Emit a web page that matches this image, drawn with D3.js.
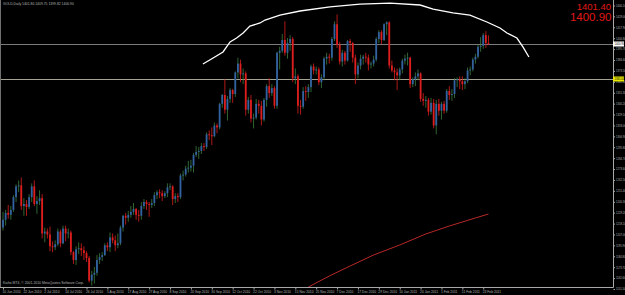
<!DOCTYPE html>
<html>
<head>
<meta charset="utf-8">
<script src="https://cdn.jsdelivr.net/npm/d3@7"></script>
<style>
  html, body { margin: 0; padding: 0; background: #000; overflow: hidden; }
  text { font-family: "Liberation Sans", Arial, sans-serif; }
</style>
</head>
<body>
<svg id="chart"></svg>
<script>
// ---- data ----
const symbolTitle = "GOLD,Daily  1401.80 1409.75 1399.82 1400.90";
const copyright = "Kaiho MT4, \u00a9 2001-2010 MetaQuotes Software Corp.";
const bidAskLabels = ["1401.40", "1400.90"];
const bidPrice = 1400.90;
const levelPrice = 1365.00;
const barsPerLabel = 8;

const timeLabels = [
    "10 Jun 2010", "22 Jun 2010", "2 Jul 2010", "14 Jul 2010", "26 Jul 2010",
    "5 Aug 2010", "17 Aug 2010", "27 Aug 2010", "8 Sep 2010", "20 Sep 2010",
    "30 Sep 2010", "12 Oct 2010", "22 Oct 2010", "3 Nov 2010", "15 Nov 2010",
    "25 Nov 2010", "7 Dec 2010", "17 Dec 2010", "29 Dec 2010", "10 Jan 2011",
    "20 Jan 2011", "1 Feb 2011", "11 Feb 2011", "23 Feb 2011"
];

const priceTicks = [
    1151.50, 1162.60, 1173.70, 1184.80, 1195.90, 1207.00, 1218.10, 1229.20,
    1240.30, 1251.40, 1262.50, 1273.60, 1284.70, 1295.80, 1306.90, 1318.00,
    1329.10, 1340.20, 1351.30, 1362.40, 1373.50, 1384.60, 1395.70, 1406.80,
    1417.90, 1429.00, 1440.10
];

// open, high, low, close -- one row per daily bar from 10 Jun 2010
const candles = [
    [1214, 1230, 1211, 1222], [1222, 1232, 1216, 1229], [1229, 1237, 1223, 1227], [1227, 1236, 1222, 1232],
    [1232, 1247, 1230, 1245], [1245, 1258, 1240, 1256], [1256, 1262, 1250, 1257], [1257, 1265, 1232, 1236],
    [1236, 1244, 1226, 1238], [1238, 1242, 1226, 1235], [1235, 1248, 1233, 1245], [1245, 1259, 1240, 1256],
    [1256, 1262, 1236, 1238], [1238, 1246, 1228, 1241], [1241, 1252, 1237, 1244], [1244, 1248, 1203, 1208],
    [1208, 1214, 1199, 1210], [1210, 1213, 1203, 1207], [1207, 1215, 1190, 1195], [1195, 1200, 1189, 1194],
    [1194, 1201, 1191, 1197], [1197, 1213, 1195, 1210], [1210, 1212, 1194, 1198], [1198, 1216, 1197, 1213],
    [1213, 1216, 1200, 1208], [1208, 1213, 1203, 1209], [1209, 1211, 1186, 1189], [1189, 1190, 1177, 1181],
    [1181, 1195, 1176, 1192], [1192, 1199, 1187, 1193], [1193, 1198, 1185, 1191], [1191, 1195, 1181, 1188],
    [1188, 1190, 1179, 1183], [1183, 1185, 1158, 1160], [1160, 1170, 1155, 1166], [1166, 1174, 1157, 1168],
    [1168, 1186, 1165, 1181], [1181, 1188, 1177, 1184], [1184, 1189, 1180, 1186], [1186, 1198, 1185, 1196],
    [1196, 1199, 1190, 1194], [1194, 1209, 1189, 1204], [1204, 1208, 1198, 1201], [1201, 1206, 1190, 1196],
    [1196, 1208, 1193, 1198], [1198, 1216, 1196, 1214], [1214, 1227, 1210, 1226], [1226, 1229, 1217, 1224],
    [1224, 1231, 1220, 1227], [1227, 1236, 1224, 1230], [1230, 1239, 1227, 1233], [1233, 1234, 1222, 1227],
    [1227, 1232, 1220, 1226], [1226, 1240, 1222, 1236], [1236, 1243, 1233, 1240], [1240, 1242, 1232, 1238],
    [1238, 1240, 1225, 1237], [1237, 1243, 1234, 1239], [1239, 1250, 1236, 1247], [1247, 1252, 1243, 1250],
    [1250, 1253, 1244, 1249], [1249, 1252, 1241, 1246], [1246, 1251, 1244, 1249], [1249, 1259, 1245, 1255],
    [1255, 1259, 1252, 1256], [1256, 1257, 1237, 1243], [1243, 1249, 1239, 1246], [1246, 1249, 1240, 1245],
    [1245, 1269, 1243, 1267], [1267, 1272, 1262, 1268], [1268, 1277, 1266, 1274], [1274, 1282, 1270, 1275],
    [1275, 1283, 1271, 1277], [1277, 1290, 1270, 1288], [1288, 1297, 1286, 1291], [1291, 1296, 1284, 1292],
    [1292, 1300, 1289, 1297], [1297, 1300, 1292, 1296], [1296, 1311, 1294, 1309], [1309, 1313, 1303, 1308],
    [1308, 1316, 1298, 1307], [1307, 1321, 1306, 1318], [1318, 1320, 1310, 1316], [1316, 1341, 1314, 1340],
    [1340, 1350, 1336, 1349], [1349, 1365, 1330, 1334], [1334, 1348, 1323, 1345], [1345, 1356, 1341, 1354],
    [1354, 1355, 1341, 1350], [1350, 1373, 1347, 1372], [1372, 1387, 1366, 1381], [1381, 1385, 1362, 1370],
    [1370, 1376, 1360, 1371], [1371, 1373, 1328, 1334], [1334, 1347, 1330, 1344], [1344, 1349, 1321, 1325],
    [1325, 1330, 1315, 1326], [1326, 1345, 1324, 1340], [1340, 1344, 1330, 1338], [1338, 1343, 1318, 1324],
    [1324, 1346, 1322, 1344], [1344, 1360, 1337, 1358], [1358, 1366, 1346, 1351], [1351, 1360, 1348, 1356],
    [1356, 1358, 1335, 1338], [1338, 1393, 1335, 1392], [1392, 1398, 1375, 1394], [1394, 1411, 1392, 1405],
    [1405, 1424, 1389, 1392], [1392, 1407, 1386, 1402], [1402, 1410, 1394, 1406], [1406, 1408, 1362, 1366],
    [1366, 1376, 1360, 1368], [1368, 1370, 1330, 1338], [1338, 1344, 1329, 1337], [1337, 1357, 1335, 1353],
    [1353, 1358, 1343, 1352], [1352, 1360, 1346, 1357], [1357, 1380, 1352, 1378], [1378, 1381, 1370, 1374],
    [1374, 1378, 1370, 1375], [1375, 1377, 1359, 1362], [1362, 1370, 1356, 1367], [1367, 1388, 1364, 1386],
    [1386, 1392, 1380, 1388], [1388, 1391, 1381, 1387], [1387, 1408, 1384, 1406], [1406, 1424, 1404, 1421],
    [1421, 1431, 1397, 1400], [1400, 1403, 1380, 1383], [1383, 1395, 1378, 1392], [1392, 1394, 1380, 1384],
    [1384, 1405, 1383, 1404], [1404, 1406, 1393, 1402], [1402, 1403, 1382, 1387], [1387, 1390, 1360, 1370],
    [1370, 1382, 1366, 1379], [1379, 1390, 1375, 1386], [1386, 1390, 1380, 1388], [1388, 1392, 1382, 1387],
    [1387, 1390, 1374, 1380], [1380, 1383, 1376, 1381], [1381, 1389, 1378, 1385], [1385, 1408, 1383, 1406],
    [1406, 1415, 1402, 1413], [1413, 1415, 1401, 1405], [1405, 1422, 1404, 1421], [1421, 1424, 1410, 1423],
    [1423, 1424, 1376, 1379], [1379, 1384, 1372, 1374], [1374, 1377, 1364, 1372], [1372, 1376, 1354, 1369],
    [1369, 1377, 1364, 1375], [1375, 1386, 1371, 1384], [1384, 1390, 1380, 1386], [1386, 1392, 1379, 1387],
    [1387, 1388, 1356, 1360], [1360, 1367, 1357, 1365], [1365, 1372, 1358, 1368], [1368, 1375, 1364, 1371],
    [1371, 1372, 1342, 1345], [1345, 1351, 1338, 1343], [1343, 1348, 1336, 1344], [1344, 1346, 1328, 1332],
    [1332, 1346, 1329, 1341], [1341, 1345, 1315, 1318], [1318, 1344, 1309, 1340], [1340, 1345, 1328, 1333],
    [1333, 1342, 1324, 1340], [1340, 1343, 1330, 1333], [1333, 1355, 1331, 1353], [1353, 1358, 1344, 1349],
    [1349, 1355, 1343, 1350], [1350, 1366, 1346, 1364], [1364, 1367, 1357, 1365], [1365, 1368, 1355, 1363],
    [1363, 1368, 1354, 1360], [1360, 1366, 1355, 1363], [1363, 1377, 1361, 1374], [1374, 1378, 1369, 1375],
    [1375, 1387, 1373, 1385], [1385, 1391, 1381, 1388], [1388, 1400, 1386, 1398], [1398, 1408, 1393, 1399],
    [1399, 1412, 1396, 1410], [1410, 1414, 1397, 1402], [1401.80, 1409.75, 1399.82, 1400.90]
];

// long moving average (bar index, price)
const maPoints = [
    [117, 1153.5], [125, 1164.7], [133, 1174.9], [142, 1186.1], [152, 1196.3],
    [162, 1207.5], [171, 1215.6], [181, 1223.8], [186, 1227.8]
];

// hand drawn arc over the top (bar index, price)
const arcPoints = [
    [76.6, 1380.5], [80.5, 1386.7], [84.3, 1392.8], [87.0, 1403.0], [89.5, 1407.0],
    [92.0, 1412.1], [94.6, 1419.2], [98.5, 1422.3], [100.4, 1425.3], [106.1, 1430.4],
    [113.8, 1434.5], [125.3, 1438.6], [136.8, 1441.6], [148.3, 1442.6], [159.8, 1440.6],
    [164.8, 1436.5], [172.4, 1432.5], [178.9, 1430.4], [185.4, 1423.3], [190.4, 1417.2],
    [193.1, 1412.1], [196.9, 1407.0], [199.2, 1397.9], [201.5, 1387.7]
];

// ---- layout ----
const width = 625;
const height = 295;
const plotRight = 613;
const plotBottom = 287;

const svg = d3.select("#chart").attr("width", width).attr("height", height);
svg.append("rect").attr("width", width).attr("height", height).attr("fill", "#000");

const x = d3.scaleLinear().domain([0, 233]).range([3, 3 + 233 * 2.61]);
const y = d3.scaleLinear().domain([1152.5, 1445.7]).range([288, 0]);

const COLOR = {
    frame: "#a8a8a8",
    text: "#b4b4b4",
    bullBody: "#3262a2",
    bullWick: "#3c7e3c",
    bear: "#dc1e1e",
    ma: "#b82828",
    bigText: "#e01818",
};

// left frame
svg.append("line")
    .attr("x1", 0.5).attr("x2", 0.5).attr("y1", 0).attr("y2", plotBottom)
    .attr("stroke", "#707070");

// horizontal lines
svg.append("line")
    .attr("x1", 1).attr("x2", plotRight)
    .attr("y1", Math.round(y(bidPrice)) + 0.5).attr("y2", Math.round(y(bidPrice)) + 0.5)
    .attr("stroke", "#7c7c7c");
svg.append("line")
    .attr("x1", 1).attr("x2", plotRight)
    .attr("y1", Math.round(y(levelPrice)) + 0.5).attr("y2", Math.round(y(levelPrice)) + 0.5)
    .attr("stroke", "#a4a490");

// moving average
svg.append("path")
    .datum(maPoints)
    .attr("fill", "none")
    .attr("stroke", COLOR.ma)
    .attr("stroke-width", 1)
    .attr("d", d3.line().x((d) => x(d[0])).y((d) => y(d[1])));

// candles
const bars = svg.append("g").attr("id", "candles");
const bodyW = 1.8;
candles.forEach((d, i) => {
    const [o, h, l, c] = d;
    const up = c >= o;
    bars.append("line")
        .attr("x1", x(i)).attr("x2", x(i))
        .attr("y1", y(h)).attr("y2", y(l))
        .attr("stroke", up ? COLOR.bullWick : COLOR.bear)
        .attr("stroke-width", 0.8);
    const top = y(Math.max(o, c));
    const bot = y(Math.min(o, c));
    bars.append("rect")
        .attr("x", x(i) - bodyW / 2)
        .attr("y", top)
        .attr("width", bodyW)
        .attr("height", Math.max(0.7, bot - top))
        .attr("fill", up ? COLOR.bullBody : COLOR.bear);
});

// white arc
svg.append("path")
    .datum(arcPoints)
    .attr("fill", "none")
    .attr("stroke", "#fff")
    .attr("stroke-width", 1.3)
    .attr("d", d3.line().x((d) => x(d[0])).y((d) => y(d[1])));

// price axis
const yAxis = svg.append("g")
    .attr("transform", `translate(${plotRight + 0.5},0)`)
    .call(d3.axisRight(y).tickValues(priceTicks).tickSize(1.5).tickPadding(1)
        .tickFormat(d3.format(".2f")));
yAxis.select(".domain").attr("stroke", COLOR.frame).attr("d", `M0,0V${plotBottom + 0.5}`);
yAxis.selectAll(".tick line").attr("stroke", COLOR.frame);
yAxis.selectAll(".tick text").attr("fill", COLOR.text).style("font-size", "2.7px");

// time axis
const tickIdx = timeLabels.map((t, k) => k * barsPerLabel);
const xAxis = svg.append("g")
    .attr("transform", `translate(0,${plotBottom + 0.5})`)
    .call(d3.axisBottom(x).tickValues(tickIdx).tickSize(2).tickPadding(1.5)
        .tickFormat((d) => timeLabels[d / barsPerLabel]));
xAxis.select(".domain").attr("stroke", COLOR.frame).attr("d", `M0,0H${plotRight + 0.5}`);
xAxis.selectAll(".tick line").attr("stroke", COLOR.frame);
xAxis.selectAll(".tick text")
    .attr("fill", COLOR.text)
    .attr("text-anchor", "start")
    .attr("x", -1)
    .style("font-size", "3.3px");

// price boxes on the axis
function priceBox(price, fill) {
    const g = svg.append("g").attr("transform", `translate(${plotRight},${Math.round(y(price))})`);
    g.append("rect").attr("x", 0).attr("y", -2.5).attr("width", 11).attr("height", 5).attr("fill", fill);
    g.append("text").attr("x", 1.5).attr("y", 1).attr("fill", "#000")
        .style("font-size", "2.7px").text(d3.format(".2f")(price));
}
priceBox(bidPrice, "#ffffff");
priceBox(levelPrice, "#e8e800");

// labels
svg.append("text").attr("x", 3).attr("y", 5).attr("fill", COLOR.text)
    .style("font-size", "3.4px").text(symbolTitle);
svg.append("text").attr("x", 3).attr("y", 284).attr("fill", COLOR.text)
    .style("font-size", "3.4px").text(copyright);

svg.append("text").attr("x", 611).attr("y", 10).attr("text-anchor", "end")
    .attr("fill", COLOR.bigText).style("font-size", "9.5px").text(bidAskLabels[0]);
svg.append("text").attr("x", 611.5).attr("y", 20.5).attr("text-anchor", "end")
    .attr("fill", COLOR.bigText).style("font-size", "11.5px").text(bidAskLabels[1]);
</script>
</body>
</html>
